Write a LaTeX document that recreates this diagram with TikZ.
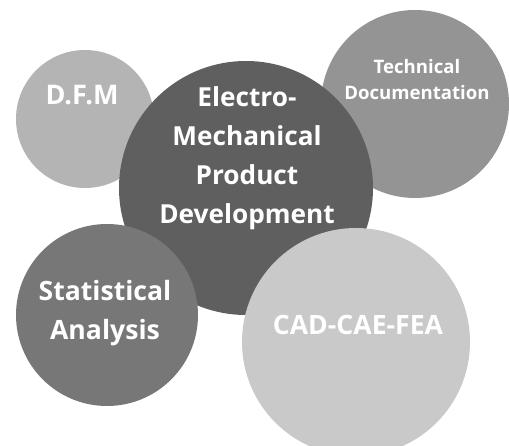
\documentclass[tikz,border=0pt]{standalone}
\usepackage{fontspec}
\setmainfont{Open Sans}
\definecolor{cdfm}{HTML}{B4B4B4}
\definecolor{ctech}{HTML}{949494}
\definecolor{ccenter}{HTML}{5F5F5F}
\definecolor{cstat}{HTML}{777777}
\definecolor{ccad}{HTML}{C9C9C9}
\tikzset{
  bubble/.style={circle, draw=none, inner sep=0pt},
  btext/.style={text=white, font=\bfseries, align=center, inner sep=0pt, anchor=north},
}
\begin{document}
\begin{tikzpicture}[x=1pt,y=-1pt]
\useasboundingbox (0,0) rectangle (509,446);
\begin{scope}
\clip (0,0) rectangle (509,446);
\node[bubble, fill=cdfm, minimum size=138pt] (dfm) at (85,119) {};
\node[bubble, fill=ctech, minimum size=188pt] (tech) at (415,104) {};
\node[bubble, fill=ccenter, minimum size=254pt] (core) at (246,188) {};
\node[bubble, fill=cstat, minimum size=182pt] (stat) at (107,315) {};
\node[bubble, fill=ccad, minimum size=228pt] (cad) at (356,342) {};
\end{scope}
\node[btext, font=\bfseries\fontsize{27}{39}\selectfont] (tdfm) at (82,85) {D.F.M};
\node[btext, font=\bfseries\fontsize{18.6}{26}\selectfont] (ttech) at (417,59.5) {Technical\\Documentation};
\node[btext, font=\bfseries\fontsize{26.2}{39}\selectfont] (tcore) at (247,86) {Electro-\\Mechanical\\Product\\Development};
\node[btext, font=\bfseries\fontsize{26.6}{39}\selectfont] (tstat) at (105,280) {Statistical\\Analysis};
\node[btext, font=\bfseries\fontsize{26.6}{39}\selectfont] (tcad) at (358,315) {CAD-CAE-FEA};
\end{tikzpicture}
\end{document}
